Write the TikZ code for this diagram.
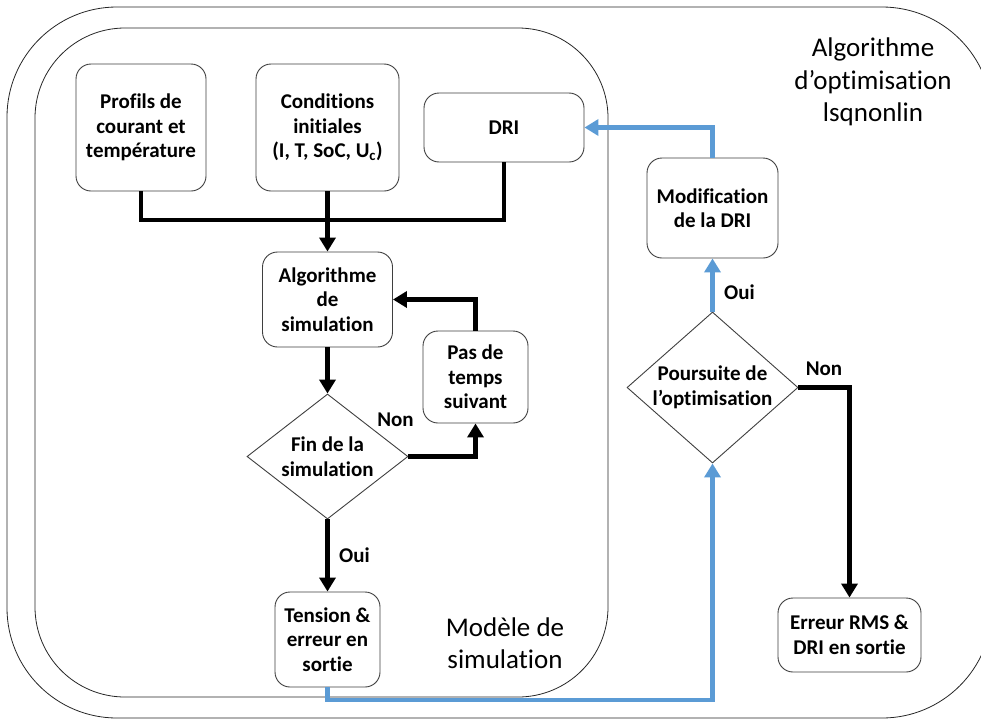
\documentclass[tikz,border=0pt]{standalone}
\usepackage{fontspec}
\setmainfont{Carlito}[Ligatures=NoCommon]
\usepackage{xcolor}
\usepackage{tikz}
\usetikzlibrary{arrows.meta, positioning, shapes.geometric}
\definecolor{simgray}{HTML}{3F3F3F}
\definecolor{optiblue}{HTML}{5B9BD5}
\newcommand{\boxfont}{\fontsize{21}{24.5}\selectfont\bfseries}
\newcommand{\zonefont}{\fontsize{27}{32.5}\selectfont}
\tikzset{
  box/.style={draw=simgray, line width=0.9pt, rounded corners=15pt, align=center,
              font=\boxfont, inner sep=2pt, fill=white},
  decision/.style={draw=simgray, line width=0.9pt, diamond, aspect=1.2,
              inner sep=0pt, align=center, font=\boxfont, fill=white},
  zone/.style={draw=black!85, line width=0.8pt},
  zonelbl/.style={font=\zonefont, align=center},
  flow/.style={-{Triangle[length=14pt, width=16pt]}, line width=4.5pt, draw=black},
  flowb/.style={-{Triangle[length=14pt, width=16pt]}, line width=4.5pt, draw=optiblue},
  link/.style={line width=4.5pt, draw=black},
  lbl/.style={font=\boxfont},
}
\begin{document}
\begin{tikzpicture}[x=1pt, y=-1pt]
  \clip (0,0) rectangle (981,720);
  % zones
  \draw[zone, rounded corners=110pt] (7,7) rectangle (992,718);
  \draw[zone, rounded corners=90pt] (35,28) rectangle (608,697);
  \node[zonelbl] (optlbl) at (873,82) {Algorithme\\ d’optimisation\\ lsqnonlin};
  \node[zonelbl] (simlbl) at (505,643) {Modèle de\\ simulation};

  % simulation model
  \node[box, minimum width=130pt, minimum height=127pt] (prof) at (141,127.5)
    {Profils de\\ courant et\\ température};
  \node[box, minimum width=143pt, minimum height=127pt] (cond) at (327.5,127.5)
    {Conditions\\ initiales\\ (I, T, SoC, U\textsubscript{c})};
  \node[box, minimum width=160pt, minimum height=69pt] (dri) at (504,127.5) {DRI};
  \node[box, minimum width=130pt, minimum height=95pt] (algo) at (327.5,299.5)
    {Algorithme\\ de\\ simulation};
  \node[box, minimum width=105pt, minimum height=92pt] (pas) at (475.5,377)
    {Pas de\\ temps\\ suivant};
  \node[decision, minimum width=161pt, minimum height=125pt] (fin) at (327.5,456.5)
    {Fin de la\\ simulation};
  \node[box, minimum width=105pt, minimum height=95pt] (tens) at (327.5,639.5)
    {Tension \&\\ erreur en\\ sortie};

  % optimisation
  \node[box, minimum width=131pt, minimum height=100pt] (modif) at (712.5,208)
    {Modification\\ de la DRI};
  \node[decision, minimum width=171pt, minimum height=151pt] (pours) at (712.5,387.5)
    {Poursuite de\\ l’optimisation};
  \node[box, minimum width=143pt, minimum height=74pt] (err) at (849.5,635)
    {Erreur RMS \&\\ DRI en sortie};

  \coordinate (merge) at (327.5,220);
  \coordinate (low) at (712.5,700);

  \draw[link] (prof.south) |- (merge) -| (dri.south);
  \draw[flow] (cond.south) -- (algo.north);
  \draw[flow] (algo.south) -- (fin.north);
  \draw[flow] (fin.east) -| node[lbl, at start, above=24pt, xshift=-13pt]{Non} (pas.south);
  \draw[flow] (pas.north) |- (algo.east);
  \draw[flow] (fin.south) -- node[lbl, right=6pt]{Oui} (tens.north);

  \draw[flowb] (tens.south) |- (low) -- (pours.south);
  \draw[flowb] (pours.north) -- node[lbl, right=6pt, pos=0.37]{Oui} (modif.south);
  \draw[flowb] (modif.north) |- (dri.east);
  \draw[flow] (pours.east) -| node[lbl, above=6pt, pos=0.25]{Non} (err.north);
\end{tikzpicture}
\end{document}
